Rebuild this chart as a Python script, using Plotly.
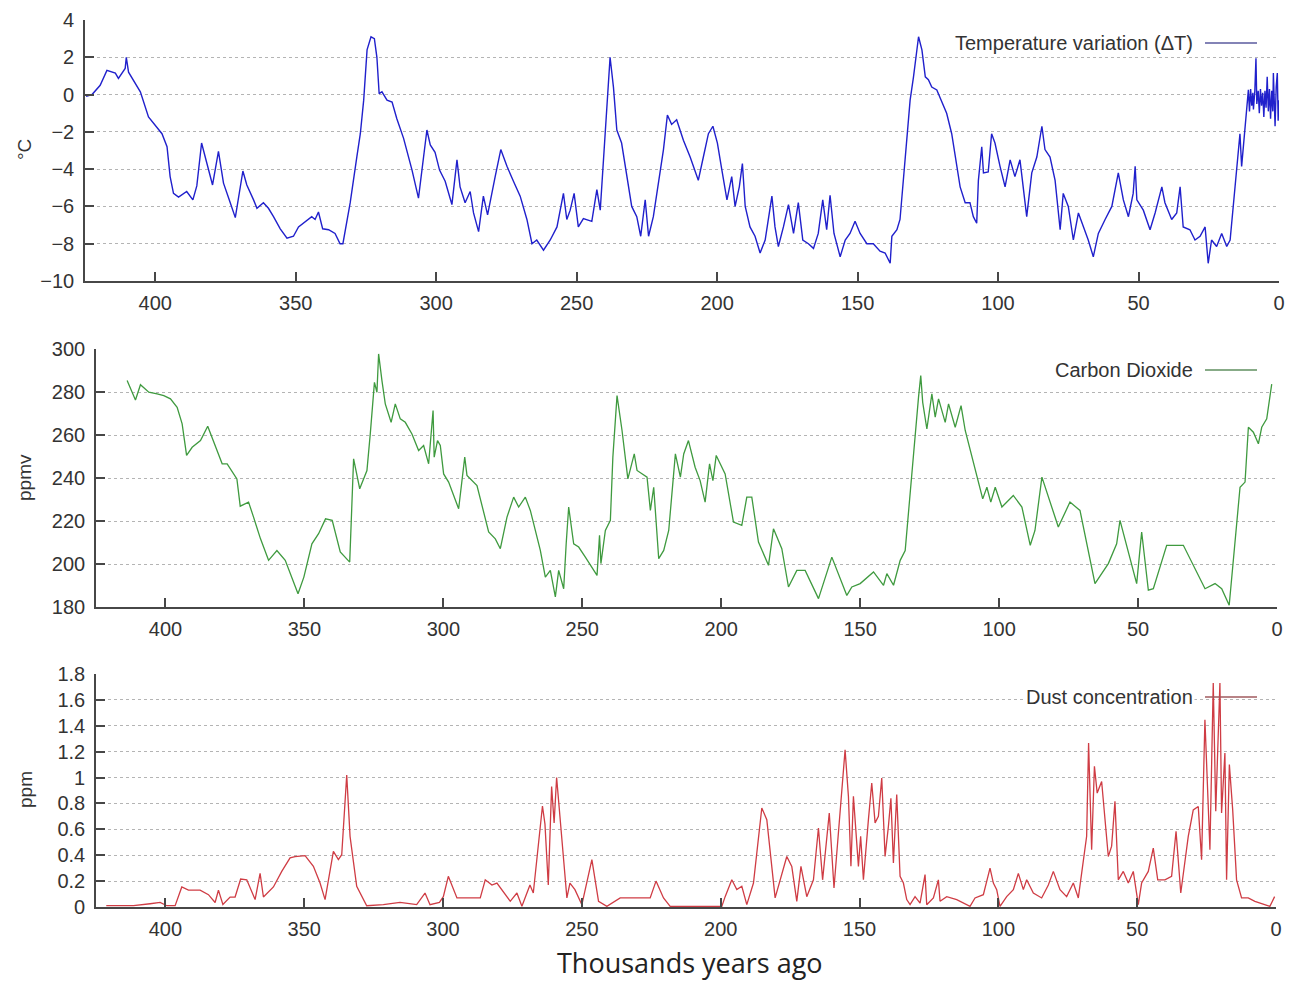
import plotly.graph_objects as go

# ---------------- data ----------------
temp_kyr = [424.6, 422.5, 419.6, 417.2, 414.2, 413.1, 410.7, 410.3, 409.5, 405.3, 402.4, 400.6, 397.6, 395.8,
            394.7, 393.5, 391.7, 388.8, 386.6, 385.2, 383.5, 381.6, 379.6, 377.5, 375.7, 373.3, 371.5, 368.8,
            367.4, 365.0, 363.8, 361.5, 359.7, 357.9, 355.5, 353.1, 350.8, 349.0, 346.6, 344.3, 343.1, 341.9,
            340.4, 338.3, 336.0, 334.2, 333.2, 330.6, 328.2, 327.0, 325.8, 324.6, 323.2, 322.0, 321.1, 320.3,
            319.3, 317.5, 315.7, 314.0, 311.6, 308.6, 306.3, 304.5, 303.3, 302.1, 300.4, 298.8, 296.8, 294.4,
            292.6, 291.5, 289.7, 287.9, 286.7, 284.9, 283.2, 281.7, 280.5, 279.0, 277.0, 274.8, 272.5, 270.1,
            267.7, 265.9, 264.2, 261.8, 259.4, 257.0, 254.7, 253.5, 252.3, 250.9, 249.4, 247.6, 244.6, 242.8,
            241.6, 239.9, 238.1, 236.9, 235.7, 234.0, 232.2, 230.4, 228.6, 227.2, 225.6, 224.4, 222.7, 220.9,
            219.1, 217.7, 216.2, 214.4, 212.0, 209.6, 206.7, 204.9, 203.1, 201.5, 199.9, 198.3, 196.5, 194.8,
            193.6, 192.1, 191.0, 190.0, 188.3, 186.5, 184.7, 182.9, 181.7, 180.5, 179.4, 178.2, 176.4, 174.6,
            172.8, 171.1, 169.5, 167.5, 165.7, 164.0, 162.4, 161.0, 159.8, 158.4, 156.2, 154.4, 152.7, 150.9,
            149.1, 146.7, 144.4, 142.0, 140.2, 138.4, 137.8, 136.0, 134.9, 134.3, 132.5, 131.3, 130.1, 128.9,
            128.3, 127.1, 125.9, 124.8, 123.6, 121.8, 120.0, 118.3, 116.5, 115.3, 113.5, 111.7, 110.0, 108.8,
            107.6, 107.0, 105.8, 105.2, 103.5, 102.3, 101.1, 99.3, 97.5, 95.7, 94.0, 92.2, 90.4, 89.8,
            88.0, 86.2, 84.4, 83.3, 81.5, 79.7, 77.9, 76.8, 75.0, 73.2, 71.4, 69.6, 67.9, 66.1,
            64.3, 61.9, 59.5, 57.2, 55.4, 53.6, 51.9, 51.2, 50.6, 48.3, 45.9, 44.1, 41.7, 40.6,
            38.2, 36.4, 35.2, 34.1, 31.7, 29.9, 28.1, 26.3, 25.2, 24.0, 22.2, 20.4, 18.6, 17.4,
            16.3, 15.1, 13.9, 13.3, 12.1, 10.9, 10.5, 10.1, 9.7, 9.3, 9.1, 8.6, 8.2, 7.9, 7.4, 7.0,
            6.6, 6.2, 5.8, 5.4, 5.0, 4.6, 4.2, 3.8, 3.4, 3.0, 2.6, 2.2, 2.0, 1.7, 1.4, 1.0, 0.6, 0.3, 0.1]
temp_val = [-0.1, 0.0, 0.5, 1.3, 1.15, 0.87, 1.4, 2.0, 1.2, 0.15, -1.2, -1.55, -2.1, -2.8,
            -4.4, -5.3, -5.5, -5.2, -5.65, -4.9, -2.6, -3.7, -4.85, -3.05, -4.75, -5.8, -6.6, -4.1,
            -4.85, -5.65, -6.1, -5.8, -6.1, -6.55, -7.2, -7.7, -7.6, -7.1, -6.8, -6.55, -6.7, -6.3,
            -7.2, -7.25, -7.45, -8.0, -8.0, -5.8, -3.3, -2.1, -0.3, 2.4, 3.1, 3.0, 2.0, 0.05,
            0.15, -0.3, -0.4, -1.3, -2.35, -4.05, -5.55, -3.35, -1.9, -2.7, -3.1, -4.05, -4.65, -5.9,
            -3.5, -4.95, -5.8, -5.2, -6.35, -7.35, -5.45, -6.45, -5.45, -4.4, -2.95, -3.85, -4.65, -5.45,
            -6.7, -8.0, -7.8, -8.35, -7.8, -7.1, -5.3, -6.7, -6.2, -5.3, -7.1, -6.65, -6.8, -5.1,
            -6.2, -1.9, 2.0, 0.4, -1.9, -2.6, -4.4, -6.0, -6.55, -7.6, -5.65, -7.6, -6.55, -4.75,
            -2.95, -1.1, -1.6, -1.35, -2.45, -3.35, -4.6, -3.35, -2.1, -1.7, -2.6, -4.05, -5.65, -4.4,
            -6.0, -4.95, -3.7, -6.0, -7.1, -7.6, -8.5, -7.8, -6.55, -5.45, -7.1, -8.15, -7.1, -5.9,
            -7.45, -5.8, -7.8, -8.0, -8.25, -7.45, -5.65, -7.25, -5.4, -7.45, -8.7, -7.8, -7.45, -6.8,
            -7.45, -8.0, -8.0, -8.4, -8.5, -9.05, -7.6, -7.25, -6.7, -5.65, -2.6, -0.3, 0.95, 2.55,
            3.1, 2.4, 0.95, 0.8, 0.4, 0.25, -0.4, -1.0, -2.1, -3.3, -4.95, -5.8, -5.8, -6.55,
            -6.9, -4.6, -2.8, -4.2, -4.15, -2.1, -2.6, -3.85, -4.95, -3.5, -4.4, -3.5, -5.8, -6.55,
            -4.2, -3.35, -1.7, -2.95, -3.35, -4.6, -7.25, -5.3, -6.0, -7.8, -6.35, -7.1, -7.8, -8.7,
            -7.45, -6.7, -6.0, -4.2, -5.65, -6.55, -5.3, -3.85, -5.65, -6.2, -7.25, -6.35, -4.95, -5.8,
            -6.7, -6.35, -4.95, -7.1, -7.25, -7.8, -7.6, -7.1, -9.05, -7.8, -8.15, -7.45, -8.15, -7.8,
            -6.0, -4.2, -2.1, -3.85, -1.7, 0.25, -0.9, 0.3, -0.6, 0.1, -0.8, 0.2, 1.95, -0.5, 0.2, -1.0,
            0.3, -0.6, 0.1, -1.2, 0.2, -0.7, 0.95, -0.9, 0.3, -1.3, 0.2, -0.9, 1.15, -1.0, -1.7, 0.4, 1.15, -1.4, -0.3]

co2_kyr = [413.8, 410.8, 409.0, 406.0, 403.0, 400.6, 398.2, 395.8, 394.0, 392.4, 390.4, 387.4, 384.8, 382.0,
           379.6, 377.8, 374.3, 373.1, 370.1, 368.3, 365.8, 362.9, 359.9, 356.9, 355.1, 352.3, 350.2, 347.3,
           344.9, 342.4, 340.0, 337.1, 333.7, 332.3, 330.1, 327.5, 326.3, 324.8, 323.9, 323.3, 322.1, 320.9,
           318.8, 317.3, 315.5, 313.7, 311.3, 308.9, 307.1, 305.3, 303.7, 303.3, 302.1, 301.1, 299.9, 298.1,
           294.5, 292.3, 291.5, 287.9, 283.7, 281.3, 279.5, 277.1, 274.7, 272.9, 270.5, 268.7, 265.1, 263.3,
           261.5, 259.7, 258.5, 256.7, 255.8, 254.9, 253.1, 251.3, 248.9, 246.5, 244.7, 243.8, 243.3, 241.7,
           239.9, 239.0, 237.5, 235.7, 233.6, 231.3, 230.3, 226.7, 225.5, 224.3, 222.5, 220.7, 218.9, 216.5,
           214.7, 213.5, 211.8, 209.4, 207.6, 205.8, 204.2, 203.0, 201.8, 198.6, 195.6, 192.6, 190.8, 189.0,
           186.6, 183.0, 181.2, 178.2, 175.8, 172.8, 169.8, 165.0, 160.2, 154.8, 153.0, 150.0, 145.2, 141.6,
           140.4, 138.0, 135.6, 133.8, 132.0, 130.2, 129.0, 128.2, 127.5, 126.0, 124.2, 123.0, 121.8, 119.4,
           118.2, 115.8, 113.7, 112.2, 108.6, 105.9, 104.4, 103.0, 101.4, 99.0, 94.9, 91.8, 88.8, 87.1,
           84.6, 78.7, 74.5, 70.9, 65.5, 60.7, 57.7, 56.5, 50.5, 48.7, 46.3, 44.5, 39.7, 33.7,
           25.9, 22.3, 19.9, 17.2, 13.3, 11.5, 10.3, 8.5, 6.7, 5.5, 3.7, 1.9]
co2_val = [285.3, 276.3, 283.4, 279.9, 279.1, 278.3, 276.8, 272.9, 265.2, 250.5, 254.3, 257.4, 264.1, 255.1,
           246.6, 246.6, 239.6, 226.9, 228.8, 221.8, 211.7, 201.7, 206.3, 201.7, 195.5, 186.2, 193.9, 209.4,
           214.1, 221.0, 220.3, 205.6, 200.9, 248.9, 235.0, 243.5, 260.5, 284.5, 279.9, 297.7, 285.3, 274.5,
           265.9, 274.5, 267.5, 265.9, 260.5, 252.8, 255.1, 246.6, 271.4, 249.7, 257.4, 255.1, 241.9, 238.1,
           225.7, 249.7, 241.2, 236.5, 214.9, 211.7, 207.1, 221.8, 231.1, 226.5, 231.1, 224.9, 206.3, 193.9,
           197.0, 184.7, 197.0, 188.5, 209.4, 226.5, 209.4, 207.9, 203.2, 198.6, 194.7, 213.3, 200.2, 215.6,
           220.3, 249.7, 278.3, 262.1, 239.6, 251.2, 243.5, 240.4, 224.9, 235.7, 202.5, 206.3, 215.6, 251.2,
           240.4, 251.2, 257.4, 245.0, 238.8, 228.8, 246.6, 238.8, 250.5, 241.9, 219.5, 218.0, 231.1, 231.1,
           210.2, 199.4, 216.4, 207.1, 189.3, 197.0, 197.0, 183.9, 203.2, 185.4, 189.3, 190.9, 196.3, 190.1,
           195.5, 190.1, 201.7, 206.3, 234.2, 259.0, 277.6, 287.6, 275.2, 262.8, 279.1, 268.3, 276.8, 265.9,
           274.5, 263.6, 273.7, 262.1, 243.5, 230.3, 235.7, 228.8, 235.7, 226.5, 231.9, 226.5, 208.7, 215.6,
           240.4, 217.2, 228.8, 224.9, 190.9, 200.2, 209.4, 220.3, 190.9, 214.9, 187.8, 188.5, 208.7, 208.7,
           188.5, 190.9, 188.5, 180.8, 235.7, 238.1, 263.6, 261.3, 255.9, 263.6, 267.5, 283.7]

dust_kyr = [421.3, 411.5, 405.5, 401.9, 399.5, 396.5, 394.1, 391.7, 387.5, 384.5, 382.1, 380.9, 379.3, 376.7,
            374.9, 372.9, 370.7, 367.7, 365.9, 364.7, 361.1, 358.1, 355.1, 353.3, 349.7, 346.7, 344.3, 342.5,
            339.5, 337.7, 336.5, 334.7, 333.5, 331.1, 327.5, 321.5, 315.5, 309.5, 306.5, 304.7, 301.3, 299.9,
            298.1, 295.0, 286.6, 284.8, 282.4, 280.6, 275.8, 273.4, 271.6, 268.7, 267.5, 264.2, 263.3, 262.1,
            260.9, 260.0, 259.1, 257.3, 255.4, 254.3, 252.5, 250.0, 246.4, 244.0, 241.0, 236.2, 232.6, 229.0,
            225.4, 223.3, 220.6, 218.2, 208.6, 199.6, 198.4, 196.0, 194.2, 192.4, 190.6, 188.2, 185.2, 183.4,
            180.4, 176.2, 174.4, 172.6, 171.1, 169.0, 166.6, 164.8, 163.3, 160.9, 159.2, 157.0, 155.2, 154.0,
            153.1, 152.2, 150.4, 149.6, 148.6, 146.8, 145.6, 144.4, 143.2, 142.0, 140.8, 139.6, 138.7, 137.8,
            136.6, 135.4, 134.2, 133.0, 131.8, 130.0, 128.2, 126.4, 125.8, 123.4, 121.6, 121.0, 118.6, 115.0,
            110.2, 108.4, 105.4, 103.0, 101.8, 100.6, 99.4, 97.0, 94.6, 92.8, 91.0, 89.8, 87.4, 84.4,
            82.0, 80.2, 77.8, 75.4, 73.0, 71.2, 69.6, 68.2, 67.5, 66.4, 65.4, 64.4, 62.8, 61.6,
            60.4, 59.2, 58.0, 56.8, 55.0, 53.2, 51.4, 49.6, 48.4, 46.0, 44.2, 42.6, 40.0, 37.6,
            36.0, 34.3, 31.6, 29.8, 28.0, 26.8, 25.6, 23.8, 22.6, 21.7, 20.2, 19.6, 18.4, 17.8,
            16.8, 15.6, 14.2, 12.4, 10.0, 7.6, 5.8, 4.0, 2.2, 0.5]
dust_val = [0.01, 0.01, 0.025, 0.035, 0.01, 0.01, 0.155, 0.13, 0.13, 0.095, 0.035, 0.13, 0.02, 0.077,
            0.077, 0.216, 0.21, 0.057, 0.26, 0.077, 0.155, 0.275, 0.38, 0.39, 0.397, 0.314, 0.185, 0.057,
            0.43, 0.366, 0.404, 1.02, 0.546, 0.16, 0.01, 0.018, 0.036, 0.018, 0.108, 0.018, 0.036, 0.08,
            0.237, 0.07, 0.07, 0.21, 0.17, 0.185, 0.044, 0.108, 0.005, 0.17, 0.108, 0.78, 0.64, 0.17,
            0.93, 0.65, 1.0, 0.546, 0.07, 0.185, 0.134, 0.018, 0.366, 0.044, 0.005, 0.07, 0.07, 0.07,
            0.07, 0.2, 0.07, 0.005, 0.005, 0.005, 0.08, 0.21, 0.134, 0.16, 0.018, 0.185, 0.765, 0.675,
            0.07, 0.39, 0.314, 0.044, 0.314, 0.08, 0.21, 0.61, 0.21, 0.726, 0.147, 0.70, 1.215, 0.855,
            0.314, 0.855, 0.314, 0.546, 0.21, 0.675, 0.958, 0.65, 0.70, 0.997, 0.39, 0.623, 0.84, 0.34,
            0.868, 0.237, 0.185, 0.057, 0.018, 0.08, 0.03, 0.25, 0.018, 0.07, 0.21, 0.044, 0.08, 0.057,
            0.005, 0.07, 0.095, 0.30, 0.185, 0.134, 0.005, 0.08, 0.134, 0.26, 0.134, 0.21, 0.108, 0.07,
            0.17, 0.275, 0.134, 0.08, 0.185, 0.07, 0.314, 0.546, 1.267, 0.443, 1.087, 0.88, 0.97, 0.70,
            0.39, 0.47, 0.816, 0.21, 0.275, 0.185, 0.275, 0.018, 0.185, 0.275, 0.455, 0.21, 0.21, 0.237,
            0.585, 0.108, 0.546, 0.75, 0.777, 0.366, 1.447, 0.443, 1.73, 0.74, 1.73, 0.726, 1.19, 0.21,
            1.10, 0.75, 0.21, 0.07, 0.07, 0.044, 0.03, 0.018, 0.005, 0.08]

x_ticks = [400, 350, 300, 250, 200, 150, 100, 50, 0]
temp_ticks = [4, 2, 0, -2, -4, -6, -8, -10]
temp_ticktext = ["4", "2", "0", "\u22122", "\u22124", "\u22126", "\u22128", "\u221210"]
co2_ticks = [300, 280, 260, 240, 220, 200, 180]
dust_ticks = [1.8, 1.6, 1.4, 1.2, 1.0, 0.8, 0.6, 0.4, 0.2, 0]
dust_ticktext = ["1.8", "1.6", "1.4", "1.2", "1", "0.8", "0.6", "0.4", "0.2", "0"]

series_names = ["Temperature variation (\u0394T)", "Carbon Dioxide", "Dust concentration"]
y_titles = ["\u00b0C", "ppmv", "ppm"]
x_title = "Thousands years ago"

# ---------------- styling ----------------
# The page body keeps an 8 px margin, so the figure is placed at (8, 8);
# it is made tall enough to reach past the bottom of the window.
OFF = 8
W, H = 1296 - 2 * OFF, 982
colors = ["#2020cc", "#3f9a3f", "#cf3c44"]
legend_colors = ["#5a5a9e", "#5f8f5f", "#a05a5e"]
tickfont = dict(family="Liberation Sans, Arial, sans-serif", size=20, color="#333333")
axis_col = "#474747"


def px(x):
    return (x - OFF) / W


def py(y):
    return 1 - (y - OFF) / H


# panel boxes in window pixels: (left, right, top, bottom)
boxes = [(85, 1279, 20, 281), (96, 1277, 349, 607), (96, 1276, 674, 907)]

fig = go.Figure()
data = [(temp_kyr, temp_val), (co2_kyr, co2_val), (dust_kyr, dust_val)]
widths = [1.4, 1.3, 1.3]
for i, (xs, ys) in enumerate(data):
    sfx = "" if i == 0 else str(i + 1)
    fig.add_trace(go.Scatter(x=xs, y=ys, mode="lines", xaxis="x" + sfx, yaxis="y" + sfx,
                             line=dict(color=colors[i], width=widths[i]), showlegend=False,
                             name=series_names[i]))

xr = [425, 0]
yranges = [[-10, 4], [180, 300], [0, 1.8]]
ytv = [temp_ticks, co2_ticks, dust_ticks]
ytt = [temp_ticktext, [str(v) for v in co2_ticks], dust_ticktext]

layout = dict(width=W, height=H, margin=dict(l=0, r=0, t=0, b=0, autoexpand=False),
              paper_bgcolor="white", plot_bgcolor="white", showlegend=False)
for i, (l, r, t, b) in enumerate(boxes):
    sfx = "" if i == 0 else str(i + 1)
    layout["xaxis" + sfx] = dict(domain=[px(l), px(r)], range=xr, anchor="y" + sfx,
                                 tickvals=x_ticks, ticktext=[str(v) for v in x_ticks],
                                 showline=True, linecolor=axis_col, linewidth=1.6,
                                 ticks="inside", ticklen=9, tickwidth=1.6, tickcolor=axis_col,
                                 tickfont=tickfont, showgrid=False, zeroline=False,
                                 ticklabelstandoff=3, automargin=False)
    layout["yaxis" + sfx] = dict(domain=[py(b), py(t)], range=yranges[i], anchor="x" + sfx,
                                 tickvals=ytv[i], ticktext=ytt[i],
                                 showline=True, linecolor=axis_col, linewidth=1.6,
                                 ticks="inside", ticklen=9, tickwidth=1.6, tickcolor=axis_col,
                                 tickfont=tickfont, showgrid=True, gridcolor="#b4b4b4",
                                 griddash="dot", gridwidth=1.4, zeroline=False,
                                 ticklabelstandoff=5, automargin=False)
fig.update_layout(**layout)

# y titles
ytitle_y = [150, 478, 790]
for i in range(3):
    fig.add_annotation(x=px(25), y=py(ytitle_y[i]), xref="paper", yref="paper", text=y_titles[i],
                       textangle=-90, showarrow=False, xanchor="center", yanchor="middle",
                       font=dict(family="Liberation Sans, Arial, sans-serif", size=19, color="#333333"))

# in-plot key (text followed by a line sample)
key_y = [43, 370, 697]
for i in range(3):
    fig.add_annotation(x=px(1195), y=py(key_y[i]), xref="paper", yref="paper", text=series_names[i],
                       showarrow=False, xanchor="right", yanchor="middle",
                       font=dict(family="Liberation Sans, Arial, sans-serif", size=20, color="#333333"),
                       bgcolor="white")
    fig.add_shape(type="line", xref="paper", yref="paper", x0=px(1205), x1=px(1257),
                  y0=py(key_y[i]), y1=py(key_y[i]), line=dict(color=legend_colors[i], width=1.6))

# x title
fig.add_annotation(x=px(690), y=py(962), xref="paper", yref="paper", text=x_title, showarrow=False,
                   xanchor="center", yanchor="middle",
                   font=dict(family="Open Sans, Noto Sans, sans-serif", size=27, color="#222222"))

fig.write_html("out.html")
